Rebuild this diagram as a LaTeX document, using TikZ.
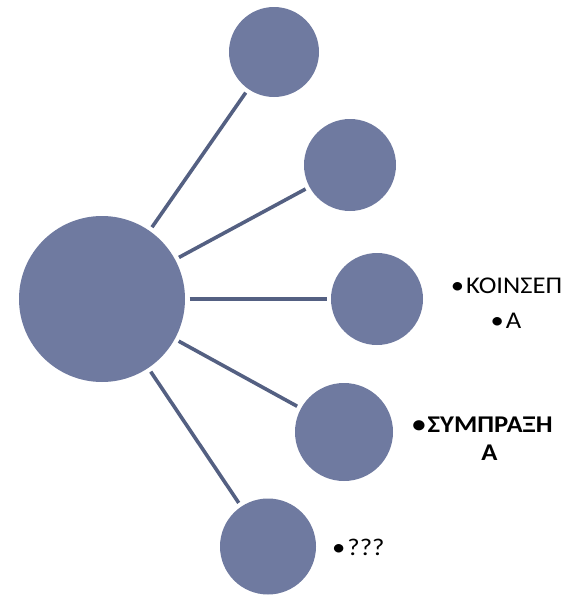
\documentclass[tikz,border=0pt]{standalone}
\usepackage{fontspec}
\setmainfont{Carlito}
\newfontfamily\lblfont[FakeStretch=1.11]{Carlito}
\begin{document}
\begin{tikzpicture}[x=1pt,y=-1pt,
  bub/.style={circle,fill=bubfill,draw=none,inner sep=0pt,outer sep=0pt},
  link/.style={draw=linkcol,line width=3.6pt,shorten <=4.5pt,shorten >=4.5pt},
  lbl/.style={anchor=base,inner sep=0pt,font=\lblfont\fontsize{24}{30}\selectfont}]
\definecolor{bubfill}{HTML}{6F7AA0}
\definecolor{linkcol}{HTML}{546082}
\useasboundingbox (0,0) rectangle (563,595);
\node[bub,minimum size=166pt] (c0) at (102,299) {};
\node[bub,minimum size=90pt] (c1) at (274,52) {};
\node[bub,minimum size=92pt] (c2) at (350,165) {};
\node[bub,minimum size=92pt] (c3) at (377,299) {};
\node[bub,minimum size=98pt] (c4) at (344,432) {};
\node[bub,minimum size=96pt] (c5) at (268,546.5) {};
\foreach \i in {1,...,5} \draw[link] (c0) -- (c\i);
\node[lbl] (t3a) at (506.5,293) {•\hspace{2pt}ΚΟΙΝΣΕΠ};
\node[lbl] (t3b) at (506,328) {•\hspace{2pt}Α};
\node[lbl,font=\lblfont\fontsize{24}{30}\selectfont\bfseries] (t4a) at (482.5,432) {•\hspace{2pt}ΣΥΜΠΡΑΞΗ};
\node[lbl,font=\lblfont\fontsize{24}{30}\selectfont\bfseries] (t4b) at (489.5,460) {Α};
\node[lbl,anchor=base west] (t5) at (332,555) {•\hspace{2pt}???};
\end{tikzpicture}
\end{document}
